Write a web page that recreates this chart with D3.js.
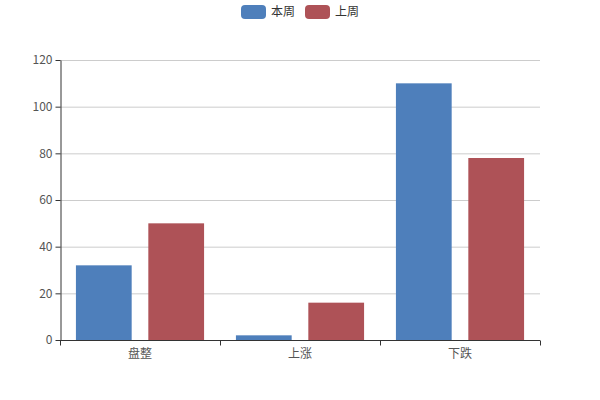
<!DOCTYPE html>
<html><head><meta charset="utf-8">
<script src="https://cdn.jsdelivr.net/npm/d3@7"></script>
<style>
body{margin:0;background:#fff;}
text{font-family:"Microsoft YaHei","Noto Sans CJK SC",sans-serif;}
</style>
</head><body>
<svg id="c" width="600" height="400"></svg>
<script>
const categories = ["盘整","上涨","下跌"];
const seriesNames = ["本周","上周"];
const thisWeek = [32, 2, 110];
const lastWeek = [50, 16, 78];
const yTicks = [0,20,40,60,80,100,120];
const colors = ["#4e7fbb","#ae5257"];

const svg = d3.select("#c");
const m = {l:60, r:60, t:60, b:60};
const W = 600, H = 400;
const x = d3.scaleBand().domain(categories).range([m.l, W-m.r]);
const xs = d3.scaleBand().domain(seriesNames).range([0, x.bandwidth()]).paddingInner(0.23).paddingOuter(0.22);
const y = d3.scaleLinear().domain([0,120]).range([H-m.b, m.t]);

// gridlines
svg.append("g").selectAll("line").data(yTicks.filter(d=>d>0)).join("line")
  .attr("x1", m.l).attr("x2", W-m.r)
  .attr("y1", d=>y(d)+0.5).attr("y2", d=>y(d)+0.5)
  .attr("stroke","#ccc").attr("stroke-width",1);

const data = categories.map((c,i)=>({c, vals:[thisWeek[i], lastWeek[i]]}));
const g = svg.append("g");
data.forEach(d=>{
  d.vals.forEach((v,j)=>{
    g.append("rect")
      .attr("x", x(d.c)+xs(seriesNames[j]))
      .attr("y", y(v))
      .attr("width", xs.bandwidth())
      .attr("height", y(0)-y(v))
      .attr("fill", colors[j]);
  });
});

// y axis
const ya = svg.append("g").attr("transform",`translate(${m.l+0.5},0)`)
  .call(d3.axisLeft(y).tickValues(yTicks).tickSize(5).tickSizeOuter(0));
ya.select(".domain").attr("stroke","#333");
ya.selectAll(".tick line").attr("stroke","#333");
ya.selectAll("text").attr("fill","#555").style("font-size","12px");

// x axis
const xa = svg.append("g").attr("transform",`translate(0,${H-m.b+0.5})`)
  .call(d3.axisBottom(x).tickSize(0).tickPadding(9));
xa.select(".domain").attr("stroke","#333").attr("d", `M${m.l},0H${W-m.r}`);
xa.selectAll("text").attr("fill","#555").style("font-size","12px");
// band boundary ticks
const bounds = categories.map(c=>x(c)).concat([W-m.r]);
xa.selectAll(".bt").data(bounds).join("line").attr("class","bt")
  .attr("x1",d=>d+0.5).attr("x2",d=>d+0.5).attr("y1",0).attr("y2",5).attr("stroke","#333");

// legend
const lg = svg.append("g");
const lx = [241, 305];
seriesNames.forEach((s,i)=>{
  lg.append("rect").attr("x",lx[i]).attr("y",5).attr("width",25).attr("height",14).attr("rx",4).attr("fill",colors[i]);
  lg.append("text").attr("x",lx[i]+30).attr("y",12).attr("dy","0.35em").attr("fill","#333").style("font-size","12px").text(s);
});
</script>
</body></html>
